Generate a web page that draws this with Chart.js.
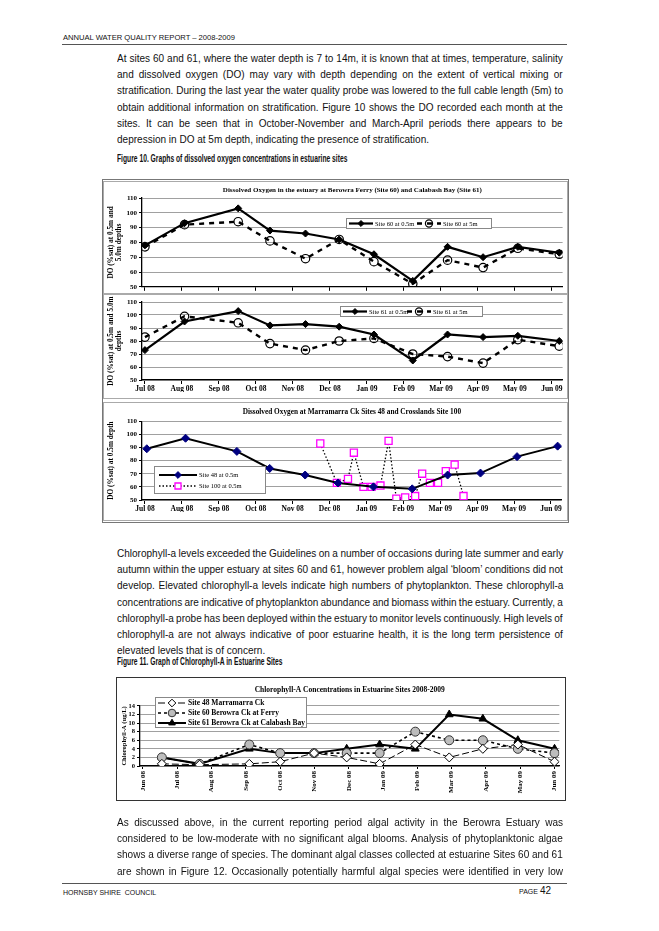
<!DOCTYPE html>
<html>
<head>
<meta charset="utf-8">
<title>Annual Water Quality Report 2008-2009 - page 42</title>
<script src="https://cdn.jsdelivr.net/npm/chart.js@4.4.1/dist/chart.umd.min.js"></script>
<style>
html, body { margin: 0; padding: 0; background: #fff; }
body { position: relative; width: 659px; height: 931px; overflow: hidden; font-family: "Liberation Sans", Arial, sans-serif; color: #111; }
.abs { position: absolute; }
.hdr { left: 63px; top: 33px; font-size: 7.6px; line-height: 10px; }
.rule { left: 62px; width: 505px; height: 0; border-top: 1.6px solid #555; }
.para { left: 117px; width: 446px; }
.para .sc { transform: scaleX(0.88); transform-origin: 0 0; font-size: 11.4px; line-height: 16.2px; }
.ln { white-space: nowrap; }
.cap { left: 117px; font-weight: bold; font-size: 10.5px; line-height: 16px; white-space: nowrap; transform: scaleX(0.64); transform-origin: 0 0; }
.box { position: absolute; box-sizing: border-box; pointer-events: none; }
canvas { position: absolute; }
.foot { top: 888px; font-size: 7px; line-height: 10px; }
</style>
</head>
<body>

<div class="abs hdr">ANNUAL WATER QUALITY REPORT – 2008-2009</div>
<div class="abs rule" style="top:44px"></div>

<div class="abs para" style="top:50px"><div class="sc">
  <div class="ln j"><span>At sites 60 and 61, where the water depth is 7 to 14m, it is known that at times, temperature, salinity</span></div>
  <div class="ln j"><span>and dissolved oxygen (DO) may vary with depth depending on the extent of vertical mixing or</span></div>
  <div class="ln j"><span>stratification. During the last year the water quality probe was lowered to the full cable length (5m) to</span></div>
  <div class="ln j"><span>obtain additional information on stratification. Figure 10 shows the DO recorded each month at the</span></div>
  <div class="ln j"><span>sites. It can be seen that in October-November and March-April periods there appears to be</span></div>
  <div class="ln"><span>depression in DO at 5m depth, indicating the presence of stratification.</span></div>
</div></div>

<div class="abs cap" style="top:150px">Figure 10. Graphs of dissolved oxygen concentrations in estuarine sites</div>

<div class="box" style="left:102px;top:179px;width:467px;height:344px;border:1px solid #777"></div>
<canvas id="c1" width="465" height="112" style="left:103px;top:181px"></canvas>
<div class="box" style="left:103px;top:181px;width:465px;height:113px;border:1px solid #aaa"></div>
<canvas id="c2" width="465" height="104" style="left:103px;top:294px"></canvas>
<div class="box" style="left:103px;top:294px;width:465px;height:105px;border:1px solid #aaa"></div>
<canvas id="c3" width="465" height="119" style="left:103px;top:402px"></canvas>
<div class="box" style="left:103px;top:402px;width:465px;height:119px;border:1px solid #aaa"></div>

<div class="abs para" style="top:545px"><div class="sc">
  <div class="ln j"><span>Chlorophyll-a levels exceeded the Guidelines on a number of occasions during late summer and early</span></div>
  <div class="ln j"><span>autumn within the upper estuary at sites 60 and 61, however problem algal ‘bloom’ conditions did not</span></div>
  <div class="ln j"><span>develop. Elevated chlorophyll-a levels indicate high numbers of phytoplankton.  These chlorophyll-a</span></div>
  <div class="ln j"><span>concentrations are indicative of phytoplankton abundance and biomass within the estuary.  Currently, a</span></div>
  <div class="ln j"><span>chlorophyll-a probe has been deployed within the estuary to monitor levels continuously.  High levels of</span></div>
  <div class="ln j"><span>chlorophyll-a are not always indicative of poor estuarine health, it is the long term persistence of</span></div>
  <div class="ln"><span>elevated levels that is of concern.</span></div>
</div></div>

<div class="abs cap" style="top:653px">Figure 11. Graph of Chlorophyll-A in Estuarine Sites</div>

<canvas id="c4" width="448" height="122" style="left:117px;top:678px"></canvas>
<div class="box" style="left:116px;top:677px;width:450px;height:124px;border:1.5px solid #333"></div>

<div class="abs para" style="top:814px"><div class="sc">
  <div class="ln j"><span>As discussed above, in the current reporting period algal activity in the Berowra Estuary was</span></div>
  <div class="ln j"><span>considered to be low-moderate with no significant algal blooms. Analysis of phytoplanktonic algae</span></div>
  <div class="ln j"><span>shows a diverse range of species. The dominant algal classes collected at estuarine Sites 60 and 61</span></div>
  <div class="ln j"><span>are shown in Figure 12. Occasionally potentially harmful algal species were identified in very low</span></div>
</div></div>

<div class="abs rule" style="top:883px"></div>
<div class="abs foot" style="left:63px">HORNSBY SHIRE&nbsp; COUNCIL</div>
<div class="abs foot" style="left:519px;top:886px">PAGE <span style="font-size:10px">42</span></div>

<script>
// ---------- data: dissolved oxygen (% sat), Figure 10 ----------
const doMonthLabels = ['Jul 08', 'Aug 08', 'Sep 08', 'Oct 08', 'Nov 08', 'Dec 08',
                       'Jan 09', 'Feb 09', 'Mar 09', 'Apr 09', 'May 09', 'Jun 09'];
// sampling dates, in months after 1 Jul 08
const doSampleX = [0, 1.07, 2.52, 3.38, 4.34, 5.25, 6.19, 7.24, 8.18, 9.14, 10.08, 11.2];
const site60Surface = [78, 93, 103, 88, 86, 82, 72, 54, 77, 70, 77, 73];
const site60Deep    = [77, 92, 94, 81, 69, 82, 67, 52, 68, 63, 76, 72];
const site61Surface = [73, 95, 103, 92, 93, 91, 85, 65, 85, 83, 84, 80];
const site61Deep    = [83, 99, 94, 78, 73, 80, 82, 70, 68, 63, 81, 76];
const site48X  = [0.05, 1.1, 2.49, 3.38, 4.34, 5.23, 6.19, 7.24, 8.2, 9.09, 10.08, 11.18];
const site48DO = [89, 97, 87, 74, 69, 63, 60, 58.5, 69, 70.5, 83, 91];
const site100X  = [4.75, 5.2, 5.5, 5.66, 5.92, 6.14, 6.38, 6.6, 6.81, 7.05, 7.32, 7.51, 7.72, 7.94, 8.15, 8.39, 8.63];
const site100DO = [93, 63, 66, 86, 60, 60, 61, 95, 51, 52, 53, 70, 63, 63, 72, 77, 53];

// ---------- data: chlorophyll-a (ug/L), Figure 11 ----------
const chlMonthLabels = ['Jun 08', 'Jul 08', 'Aug 08', 'Sep 08', 'Oct 08', 'Nov 08', 'Dec 08',
                        'Jan 09', 'Feb 09', 'Mar 09', 'Apr 09', 'May 09', 'Jun 09'];
// sampling dates, in months after 1 Jun 08
const chlSampleX = [0.55, 1.65, 3.1, 4.0, 4.99, 5.94, 6.9, 7.94, 8.93, 9.91, 10.93, 12.0];
const chlSite48 = [0.5, 0.3, 0.5, 1, 3, 2, 0.5, 5, 2, 4, 5, 1];
const chlSite60 = [2, 0.5, 5, 3, 3, 3, 3, 8, 6, 6, 4, 3];
const chlSite61 = [2, 0.5, 4, 3, 3, 4, 5, 4, 12, 11, 6, 4];

// justify the text lines (they are scaled to look like the condensed original)
function justify() {
    const target = 446 / 0.88;
    document.querySelectorAll('.ln.j').forEach(function(el) {
        const sp = el.firstElementChild;
        const n = (sp.textContent.match(/ +/g) || []).length;
        el.style.wordSpacing = ((target - sp.offsetWidth) / n) + 'px';
    });
}
justify();

const serif = '"Liberation Serif", "Times New Roman", serif';
Chart.defaults.animation = false;
Chart.defaults.responsive = false;
Chart.defaults.font.family = serif;
Chart.defaults.color = '#000';
Chart.defaults.plugins.legend.display = false;
Chart.defaults.plugins.tooltip.enabled = false;

function drawMarker(ctx, style, x, y, r, fill, stroke, lw) {
    ctx.save();
    ctx.setLineDash([]);
    ctx.beginPath();
    if (style === 'rectRot') {
        ctx.moveTo(x, y - r); ctx.lineTo(x + r, y); ctx.lineTo(x, y + r); ctx.lineTo(x - r, y); ctx.closePath();
    } else if (style === 'rect') {
        const s = r * Math.SQRT1_2;
        ctx.rect(x - s, y - s, 2 * s, 2 * s);
    } else if (style === 'triangle') {
        ctx.moveTo(x, y - r); ctx.lineTo(x + r * 0.87, y + r * 0.5); ctx.lineTo(x - r * 0.87, y + r * 0.5); ctx.closePath();
    } else {
        ctx.arc(x, y, r, 0, Math.PI * 2);
    }
    ctx.fillStyle = fill;
    ctx.fill();
    ctx.lineWidth = lw;
    ctx.strokeStyle = stroke;
    ctx.stroke();
    ctx.restore();
}

// legend box drawn inside the plot, like the spreadsheet original
const boxLegend = {
    id: 'boxLegend',
    afterDraw(chart, args, o) {
        if (!o || !o.box) return;
        const ctx = chart.ctx;
        const b = o.box;
        ctx.save();
        ctx.fillStyle = '#fff';
        ctx.fillRect(b[0], b[1], b[2], b[3]);
        ctx.strokeStyle = '#888';
        ctx.lineWidth = 1;
        ctx.strokeRect(b[0] + 0.5, b[1] + 0.5, b[2] - 1, b[3] - 1);
        ctx.font = o.font;
        ctx.textBaseline = 'middle';
        chart.data.datasets.forEach(function(ds, i) {
            const p = o.items[i];
            ctx.beginPath();
            ctx.setLineDash(ds.borderDash || []);
            ctx.strokeStyle = ds.borderColor;
            ctx.lineWidth = ds.borderWidth;
            ctx.moveTo(p[0], p[1]);
            ctx.lineTo(p[0] + o.sampleLen, p[1]);
            ctx.stroke();
            drawMarker(ctx, ds.pointStyle, p[0] + o.sampleLen / 2, p[1], ds.pointRadius * 0.85,
                       ds.pointBackgroundColor, ds.pointBorderColor, ds.pointBorderWidth);
            ctx.fillStyle = '#000';
            ctx.fillText(ds.label, p[0] + o.sampleLen + 2, p[1] + 0.5);
        });
        ctx.restore();
    }
};

function series(label, xs, ys, style) {
    return Object.assign({
        label: label,
        data: xs.map(function(x, i) { return { x: x, y: ys[i] }; }),
        borderColor: '#000', borderWidth: 2, tension: 0, fill: false,
        pointStyle: 'circle', pointRadius: 3, pointBorderWidth: 1,
        pointBorderColor: '#000', pointBackgroundColor: '#000'
    }, style);
}

function xAxis(labels, min, max, showLabels, height, extra) {
    return Object.assign({
        type: 'linear', min: min, max: max,
        afterBuildTicks: function(s) { s.ticks = labels.map(function(l, i) { return { value: i }; }); },
        ticks: {
            display: showLabels, autoSkip: false, maxRotation: 0, minRotation: 0, padding: 1,
            font: { size: 7.5, weight: 'bold' }, color: '#000',
            callback: function(v, i) { return labels[i]; }
        },
        grid: { drawOnChartArea: false, tickLength: 4, color: '#000', lineWidth: 1 },
        border: { color: '#000', width: 1.3 },
        afterFit: function(s) { s.height = height; }
    }, extra || {});
}

function yAxis(min, max, step, title, width, titleSize) {
    return {
        min: min, max: max,
        ticks: { stepSize: step, autoSkip: false, font: { size: 7, weight: 'bold' }, color: '#000', padding: 2 },
        grid: { color: '#a0a0a0', lineWidth: 1, tickLength: 3, tickColor: '#000' },
        border: { color: '#000', width: 1.3 },
        title: { display: true, text: title, color: '#000', padding: { top: 4, bottom: 1 },
                 font: { size: titleSize || 7.3, weight: 'bold', lineHeight: 1.1 } },
        afterFit: function(s) { s.width = width; }
    };
}

function chartTitle(text, pad, size) {
    return { display: true, text: text, fullSize: false, color: '#000',
             font: { size: size || 7, weight: 'bold' }, padding: pad };
}

const doMin = -0.08, doMax = 11.29;

// Site 60
new Chart(document.getElementById('c1'), {
    type: 'line',
    data: { datasets: [
        series('Site 60 at 0.5m', doSampleX, site60Surface, { borderWidth: 2.2, pointStyle: 'rectRot', pointRadius: 3.5 }),
        series('Site 60 at 5m', doSampleX, site60Deep, { borderDash: [5, 5], borderWidth: 2.4, pointRadius: 4.2,
                pointBackgroundColor: 'rgba(255,255,255,0)', pointBorderWidth: 1.2 })
    ] },
    options: {
        layout: { padding: { top: 0, left: 0, right: 2, bottom: 1 } },
        plugins: {
            title: chartTitle('Dissolved Oxygen in the estuary at Berowra Ferry (Site 60) and Calabash Bay (Site 61)', { top: 5, bottom: 3.6 }),
            boxLegend: { box: [243, 37, 146, 11], items: [[246, 42.5], [314, 42.5]], sampleLen: 24,
                         font: '6.5px "Liberation Serif", serif' }
        },
        scales: {
            x: xAxis(doMonthLabels, doMin, doMax, false, 5),
            y: yAxis(50, 110, 10, ['DO (%sat) at 0.5m and', '5.0m depths'], 39)
        }
    },
    plugins: [boxLegend]
});

// Site 61
new Chart(document.getElementById('c2'), {
    type: 'line',
    data: { datasets: [
        series('Site 61 at 0.5m', doSampleX, site61Surface, { borderWidth: 2.2, pointStyle: 'rectRot', pointRadius: 3.5 }),
        series('Site 61 at 5m', doSampleX, site61Deep, { borderDash: [5, 5], borderWidth: 2.4, pointRadius: 4.2,
                pointBackgroundColor: 'rgba(255,255,255,0)', pointBorderWidth: 1.2 })
    ] },
    options: {
        layout: { padding: { top: 8, left: 0, right: 2, bottom: 6 } },
        plugins: {
            title: { display: false },
            boxLegend: { box: [237, 12, 143, 11], items: [[240, 17.5], [304, 17.5]], sampleLen: 24,
                         font: '6.5px "Liberation Serif", serif' }
        },
        scales: {
            x: xAxis(doMonthLabels, doMin, doMax, true, 12),
            y: yAxis(50, 110, 10, ['DO (%sat) at 0.5m and 5.0m', 'depths'], 39)
        }
    },
    plugins: [boxLegend]
});

// Sites 48 and 100
new Chart(document.getElementById('c3'), {
    type: 'line',
    data: { datasets: [
        series('Site 48 at 0.5m', site48X, site48DO, { borderWidth: 2, pointStyle: 'rectRot', pointRadius: 4,
                pointBackgroundColor: '#000080', pointBorderColor: '#000080' }),
        series('Site 100 at 0.5m', site100X, site100DO, { borderWidth: 1.3, borderDash: [1.5, 2], pointStyle: 'rect',
                pointRadius: 5, pointBackgroundColor: '#fff', pointBorderColor: '#ff00ff', pointBorderWidth: 1.3 })
    ] },
    options: {
        layout: { padding: { top: 0, left: 0, right: 2, bottom: 9 } },
        plugins: {
            title: chartTitle('Dissolved Oxygen at Marramarra Ck Sites 48 and Crosslands Site 100', { top: 6, bottom: 4.4 }, 7.3),
            boxLegend: { box: [51, 64, 112, 28], items: [[56, 73], [56, 84]], sampleLen: 38,
                         font: '6.5px "Liberation Serif", serif' }
        },
        scales: {
            x: xAxis(doMonthLabels, doMin, doMax, true, 12),
            y: yAxis(50, 110, 10, 'DO (%sat) at 0.5m depth', 39)
        }
    },
    plugins: [boxLegend]
});

// Chlorophyll-a
new Chart(document.getElementById('c4'), {
    type: 'line',
    data: { datasets: [
        series('Site 48 Marramarra Ck', chlSampleX, chlSite48, { borderWidth: 1, borderDash: [7, 3], pointStyle: 'rectRot',
                pointRadius: 4.5, pointBackgroundColor: '#fff' }),
        series('Site 60 Berowra Ck at Ferry', chlSampleX, chlSite60, { borderWidth: 1.6, borderDash: [3, 3], pointRadius: 4.5,
                pointBackgroundColor: '#bdbdbd', pointBorderColor: '#333' }),
        series('Site 61 Berowra Ck at Calabash Bay', chlSampleX, chlSite61, { borderWidth: 2, pointStyle: 'triangle', pointRadius: 4.5 })
    ] },
    options: {
        layout: { padding: { top: 0, left: 0, right: 3, bottom: 0 } },
        plugins: {
            title: chartTitle('Chlorophyll-A Concentrations in Estuarine Sites 2008-2009', { top: 7.5, bottom: 11.4 }, 7.5),
            boxLegend: { box: [38, 19, 152, 31], items: [[41, 25], [41, 35], [41, 45]], sampleLen: 28,
                         font: 'bold 7.5px "Liberation Serif", serif' }
        },
        scales: {
            x: xAxis(chlMonthLabels, -0.087, 12.14, true, 34, {
                ticks: { display: true, autoSkip: false, maxRotation: 90, minRotation: 90, padding: 2,
                         font: { size: 7, weight: 'bold' }, color: '#000',
                         callback: function(v, i) { return chlMonthLabels[i]; } },
                grid: { drawOnChartArea: false, tickLength: 3, color: '#000' }
            }),
            y: Object.assign(yAxis(0, 14, 2, 'Chlorophyll-A (ug/L)', 23, 6.5), {
                ticks: { stepSize: 2, autoSkip: false, font: { size: 6.5, weight: 'bold' }, color: '#000', padding: 2 }
            })
        }
    },
    plugins: [boxLegend]
});
</script>
</body>
</html>
